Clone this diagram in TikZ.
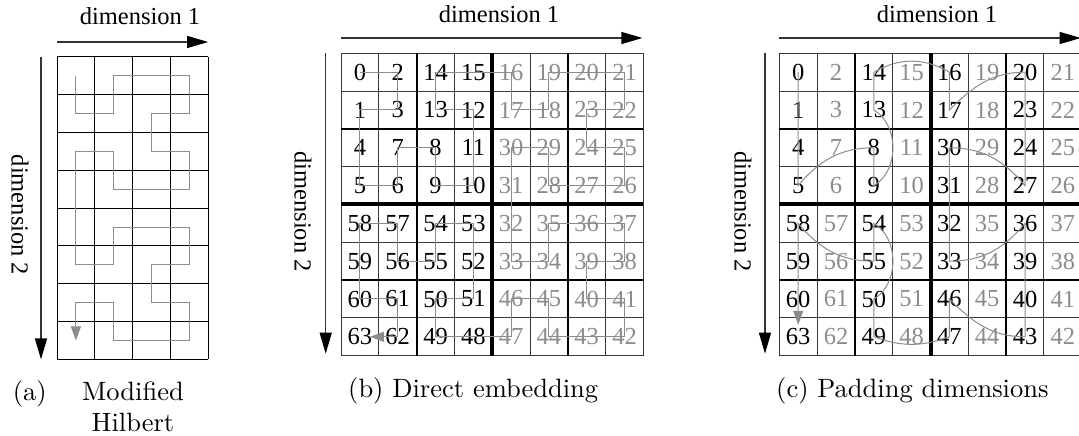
\documentclass[tikz,border=0pt]{standalone}
\usepackage{fontspec}
\newfontfamily\tnr{Liberation Serif}
\newfontfamily\capfont[Extension=.otf]{lmroman10-regular}
\usetikzlibrary{arrows.meta}

\definecolor{pathgray}{gray}{0.55}
\definecolor{numgray}{gray}{0.55}
\definecolor{gridgray}{gray}{0.22}

\tikzset{
  axis/.style={line width=1.3pt, draw=black!80,
    -{Triangle[length=21pt,width=12pt,black]}},
  axislabel/.style={font=\tnr\fontsize{24.5}{24.5}\selectfont, inner sep=0pt},
  num/.style={font=\tnr\fontsize{24.5}{24.5}\selectfont, inner sep=0pt},
  caption/.style={font=\capfont\fontsize{26.5}{30}\selectfont, inner sep=0pt},
  thingrid/.style={draw=gridgray, line width=1pt},
  midgrid/.style={draw=black, line width=2pt},
  biggrid/.style={draw=black, line width=4pt},
  curvepath/.style={draw=pathgray, line width=1pt},
  curvetip/.style={-{Triangle[length=14pt,width=10pt,pathgray]}},
}

\def\s{37.8}
\def\rowlist{{0,2,14,15,16,19,20,21},{1,3,13,12,17,18,23,22},{4,7,8,11,30,29,24,25},{5,6,9,10,31,28,27,26},{58,57,54,53,32,35,36,37},{59,56,55,52,33,34,39,38},{60,61,50,51,46,45,40,41},{63,62,49,48,47,44,43,42}}

\begin{document}
\begin{tikzpicture}[x=1pt,y=1pt]
\useasboundingbox (0,0) rectangle (1079,436);

% ---------------- (a) modified Hilbert curve ----------------
\begin{scope}[shift={(57,379)}]
  \foreach \k in {0,...,4} \draw[thingrid, draw=black] (\k*\s,0) -- (\k*\s,-8*\s);
  \foreach \k in {0,...,8} \draw[thingrid, draw=black] (0,-\k*\s) -- (4*\s,-\k*\s);
  \foreach \c in {0,...,3} \foreach \r in {0,...,7}
    \coordinate (a-\c-\r) at ({(\c+0.5)*\s},{-(\r+0.5)*\s});
  \draw[curvepath, curvetip] (a-0-0)
    \foreach \c/\r in {0/1,1/1,1/0,2/0,3/0,3/1,2/1,2/2,3/2,3/3,2/3,1/3,1/2,0/2,0/3,
      0/4,0/5,1/5,1/4,2/4,3/4,3/5,2/5,2/6,3/6,3/7,2/7,1/7,1/6,0/6,0/7} { -- (a-\c-\r) };
  \coordinate (a-tl) at (0,0);
  \coordinate (a-tr) at (4*\s,0);
  \coordinate (a-bl) at (0,-8*\s);
\end{scope}
\draw[axis] ([yshift=15pt]a-tl) -- ([yshift=15pt]a-tr);
\draw[axis] ([xshift=-16pt]a-tl) -- ([xshift=-16pt]a-bl);
\node[axislabel, anchor=base] (a-d1) at (140,411) {dimension 1};
\node[axislabel, rotate=-90] (a-d2) at (20,221) {dimension 2};
\node[caption, anchor=base west] (a-cap) at (12.7,35) {(a)};
\node[caption, anchor=base] (a-cap1) at (133,35) {Modified};
\node[caption, anchor=base] (a-cap2) at (133,4.5) {Hilbert};

% ---------------- (b) direct embedding ----------------
\begin{scope}[shift={(341,382.7)}]
  \foreach \k in {0,...,8} {
    \draw[thingrid] (\k*\s,0) -- (\k*\s,-8*\s);
    \draw[thingrid] (0,-\k*\s) -- (8*\s,-\k*\s);
  }
  \foreach \k in {2,6} {
    \draw[midgrid] (\k*\s,0) -- (\k*\s,-8*\s);
    \draw[midgrid] (0,-\k*\s) -- (8*\s,-\k*\s);
  }
  \draw[biggrid] (4*\s,0) -- (4*\s,-8*\s);
  \draw[biggrid] (0,-4*\s) -- (8*\s,-4*\s);
  \foreach \lst [count=\r from 0] in \rowlist {
    \foreach \n [count=\c from 0] in \lst {
      \ifnum\c>3 \def\numcol{numgray}\else\def\numcol{black}\fi
      \node[num, text=\numcol] (b-\c-\r) at ({(\c+0.5)*\s},{-(\r+0.5)*\s}) {\n};
    }
  }
  \coordinate (b-tl) at (0,0);
  \coordinate (b-tr) at (8*\s,0);
  \coordinate (b-bl) at (0,-8*\s);
\end{scope}
\draw[curvepath, curvetip, shorten >=10pt] (b-0-0.center)
  \foreach \c/\r in {1/0,1/1,0/1,0/2,0/3,1/3,1/2,2/2,2/3,3/3,3/2,3/1,2/1,2/0,3/0,
    4/0,4/1,5/1,5/0,6/0,7/0,7/1,6/1,6/2,7/2,7/3,6/3,5/3,5/2,4/2,4/3,
    4/4,4/5,5/5,5/4,6/4,7/4,7/5,6/5,6/6,7/6,7/7,6/7,5/7,5/6,4/6,4/7,
    3/7,2/7,2/6,3/6,3/5,3/4,2/4,2/5,1/5,1/4,0/4,0/5,0/6,1/6,1/7,0/7} { -- (b-\c-\r.center) };
\draw[axis] ([yshift=15.3pt]b-tl) -- ([yshift=15.3pt, xshift=-1pt]b-tr);
\draw[axis] ([xshift=-15.3pt]b-tl) -- ([xshift=-15.3pt, yshift=2pt]b-bl);
\node[axislabel, anchor=base] (b-d1) at (499,413) {dimension 1};
\node[axislabel, rotate=-90] (b-d2) at (303,224.5) {dimension 2};
\node[caption, anchor=base west] (b-cap) at (348,38) {(b) Direct embedding};

% ---------------- (c) padding dimensions ----------------
\begin{scope}[shift={(779.3,382.7)}]
  \foreach \k in {0,...,8} {
    \draw[thingrid] (\k*\s,0) -- (\k*\s,-8*\s);
    \draw[thingrid] (0,-\k*\s) -- (8*\s,-\k*\s);
  }
  \foreach \k in {2,6} {
    \draw[midgrid] (\k*\s,0) -- (\k*\s,-8*\s);
    \draw[midgrid] (0,-\k*\s) -- (8*\s,-\k*\s);
  }
  \draw[biggrid] (4*\s,0) -- (4*\s,-8*\s);
  \draw[biggrid] (0,-4*\s) -- (8*\s,-4*\s);
  \foreach \lst [count=\r from 0] in \rowlist {
    \foreach \n [count=\c from 0] in \lst {
      \ifodd\c \def\numcol{numgray}\else\def\numcol{black}\fi
      \node[num, text=\numcol] (c-\c-\r) at ({(\c+0.5)*\s},{-(\r+0.5)*\s}) {\n};
    }
  }
  \coordinate (c-tl) at (0,0);
  \coordinate (c-tr) at (8*\s,0);
  \coordinate (c-bl) at (0,-8*\s);
\end{scope}
\draw[curvepath, curvetip, shorten >=12pt]
  (c-0-0.center) -- (c-0-3.center)
  to[out=50,in=180] (c-2-2.center) -- (c-2-3.center)
  to[out=30,in=-30] (c-2-1.center) -- (c-2-0.center)
  to[out=30,in=150] (c-4-0.center) -- (c-4-1.center)
  to[out=45,in=180] (c-6-0.center) -- (c-6-3.center)
  to[out=130,in=0] (c-4-2.center) -- (c-4-5.center)
  to[out=0,in=-130] (c-6-4.center) -- (c-6-7.center)
  to[out=180,in=-45] (c-4-6.center) -- (c-4-7.center)
  to[out=-160,in=-20] (c-2-7.center) -- (c-2-6.center)
  to[out=30,in=-30] (c-2-4.center) -- (c-2-5.center)
  to[out=180,in=-50] (c-0-4.center) -- (c-0-7.center);
\draw[axis] ([yshift=15.3pt]c-tl) -- ([yshift=15.3pt, xshift=-1pt]c-tr);
\draw[axis] ([xshift=-14.3pt]c-tl) -- ([xshift=-14.3pt, yshift=2pt]c-bl);
\node[axislabel, anchor=base] (c-d1) at (937,413) {dimension 1};
\node[axislabel, rotate=-90] (c-d2) at (743,224.5) {dimension 2};
\node[caption, anchor=base west] (c-cap) at (776,38) {(c) Padding dimensions};
\end{tikzpicture}
\end{document}
